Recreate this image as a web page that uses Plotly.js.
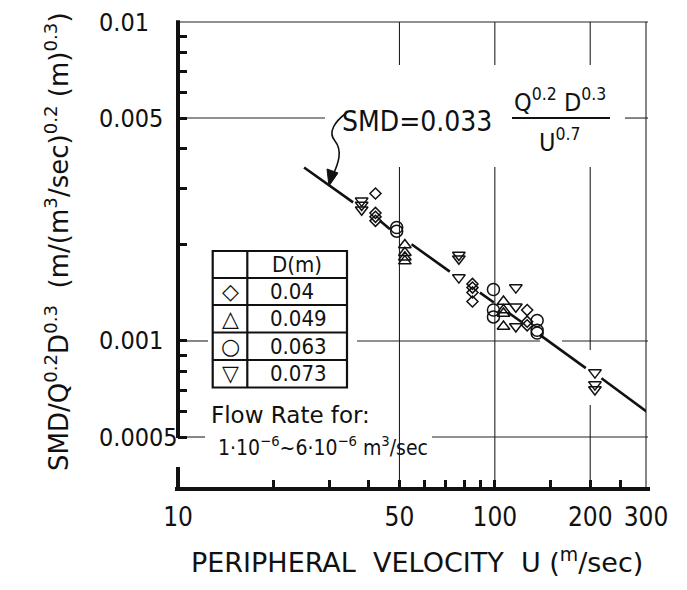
<!DOCTYPE html>
<html><head><meta charset="utf-8">
<script src="https://cdn.plot.ly/plotly-3.0.1.min.js"></script>
<style>html,body{margin:0;padding:0;background:#fff}#chart{width:687px;height:590px}</style>
</head><body><div id="chart"></div>
<script>
// ---- data ----
const d040_U = [42, 42, 42, 42, 85, 85, 85, 85, 126.5, 126.5, 126.5];
const d040_Y = [0.0029, 0.00252, 0.00245, 0.00238, 0.00151, 0.00147, 0.00142, 0.00133, 0.00125, 0.00115, 0.00112];
const d049_U = [52, 52, 52, 52, 106.5, 106.5, 106.5, 106.5];
const d049_Y = [0.0020, 0.00189, 0.00183, 0.00178, 0.00133, 0.00125, 0.00122, 0.00111];
const d063_U = [49, 49, 99, 99, 99, 136, 136, 136];
const d063_Y = [0.00227, 0.00221, 0.00145, 0.00125, 0.00119, 0.00116, 0.00108, 0.00106];
const d073_U = [38, 38, 38, 77, 77, 77, 116.5, 116.5, 116.5, 207, 207, 207];
const d073_Y = [0.00275, 0.00267, 0.00258, 0.00186, 0.00181, 0.00158, 0.00147, 0.00128, 0.00111, 0.000796, 0.00073, 0.000705];
// correlation line (drawn in pieces, broken around the symbols)
const fitU = [25, 35.7, null, 43.4, 46.7, null, 54.6, 72.1, null, 89.7, 99.3, null, 110, 121.7, null, 138.7, 193.7, null, 217, 302];
const fitY = [0.0035, 0.00272, null, 0.00238, 0.00224, null, 0.00201, 0.00165, null, 0.001418, 0.00132, null, 0.00123, 0.001145, null, 0.001045, 0.000822, null, 0.000764, 0.0006];

const xTickVals = [10, 50, 100, 200, 300];
const xTickText = ['10', '50', '100', '200', '300'];
const xMinorVals = [20, 30, 40, 60, 70, 80, 90, 150, 250];
const yLabelVals = [0.01, 0.005, 0.001, 0.0005];
const yLabelText = ['0.01', '0.005', '0.001', '0.0005'];
const yMinorVals = [0.0006, 0.0007, 0.0008, 0.0009, 0.002, 0.003, 0.004, 0.006, 0.007, 0.008, 0.009];
const legendSymbols = ['\u25C7', '\u25B3', '\u25CB', '\u25BD'];
const legendSizes = ['0.04', '0.049', '0.063', '0.073'];

// ---- geometry ----
const FC = '"DejaVu Sans Condensed", "DejaVu Sans", sans-serif';
const FR = '"DejaVu Sans", sans-serif';
const INK = '#111';
const L = 178, T = 22, W = 468, H = 467;
const XR = [1, Math.log10(300)], YR = [-3.464, -2];
const px2x = p => (p - L) / W;
const py2y = p => (T + H - p) / H;
const fx = v => (Math.log10(v) - XR[0]) / (XR[1] - XR[0]);
const fy = v => (Math.log10(v) - YR[0]) / (YR[1] - YR[0]);

const shapes = [];
function seg(x0, y0, x1, y1, w, c) {
  shapes.push({type: 'line', xref: 'paper', yref: 'paper', x0, y0, x1, y1,
    line: {color: c || '#222', width: w}, layer: 'below'});
}
// grid lines (paper coordinates) -- [value, from px, to px]
const vGrid = [[50, 22, 65], [50, 167, 489], [100, 22, 65], [100, 167, 489],
               [200, 22, 65], [200, 167, 350], [200, 405, 489], [300, 22, 489]];
vGrid.forEach(g => seg(fx(g[0]), py2y(g[1]), fx(g[0]), py2y(g[2]), 1.1));
const hGrid = [[0.01, 178, 648], [0.005, 178, 325], [0.005, 625, 648],
               [0.001, 178, 208], [0.001, 357, 540], [0.001, 562, 648],
               [0.0005, 178, 205], [0.0005, 432, 648]];
hGrid.forEach(g => seg(px2x(g[1]), fy(g[0]), px2x(g[2]), fy(g[0]), 1.1));
// axes: broken y spine, x axis
function axisLine(x0, y0, x1, y1, w) {
  shapes.push({type: 'line', xref: 'paper', yref: 'paper', x0, y0, x1, y1,
    line: {color: INK, width: w}, layer: 'above'});
}
axisLine(0, fy(0.0005) - 0.002, 0, 1.004, 4);
axisLine(0, -0.004, 0, py2y(467), 4);
axisLine(px2x(175), 0, px2x(650), 0, 4);
// fraction bar
axisLine(px2x(512), fy(0.005), px2x(610), fy(0.005), 2);
// curly arrow
const P = (x, y) => px2x(x).toFixed(4) + ',' + py2y(y).toFixed(4);
shapes.push({type: 'path', xref: 'paper', yref: 'paper', layer: 'above',
  path: 'M' + P(345, 114) + ' C' + P(336, 121) + ' ' + P(327, 132) + ' ' + P(335, 141) +
        ' C' + P(343, 151) + ' ' + P(338, 164) + ' ' + P(333, 175),
  line: {color: INK, width: 1.6}});
shapes.push({type: 'path', xref: 'paper', yref: 'paper', layer: 'above',
  path: 'M' + P(329, 186) + ' L' + P(327, 169) + ' L' + P(338, 173) + ' Z',
  fillcolor: INK, line: {color: INK, width: 1}});
// legend table
const tabX = [212.7, 247.3, 347], tabY = [251, 278, 305, 332.5, 360, 387.5];
shapes.push({type: 'rect', xref: 'paper', yref: 'paper', layer: 'above',
  x0: px2x(tabX[0]), x1: px2x(tabX[2]), y0: py2y(tabY[0]), y1: py2y(tabY[5]),
  fillcolor: 'rgba(0,0,0,0)', line: {color: INK, width: 2.2}});
for (let i = 1; i < 5; i++) axisLine(px2x(tabX[0]), py2y(tabY[i]), px2x(tabX[2]), py2y(tabY[i]), 2.2);
axisLine(px2x(tabX[1]), py2y(tabY[0]), px2x(tabX[1]), py2y(tabY[5]), 2.2);

// ---- annotations ----
const ann = [];
function txt(text, x, y, size, xa, fam, extra) {
  ann.push(Object.assign({text, x, y, xref: 'paper', yref: 'paper', showarrow: false,
    xanchor: xa || 'center', yanchor: 'middle', font: {family: fam || FC, size, color: INK}}, extra || {}));
}
const NB = '\u00A0';
yLabelVals.forEach((v, i) => txt(yLabelText[i], px2x(97), fy(v), 25, 'left'));
txt('SMD/Q<sup>0.2</sup>D<sup>0.3</sup>' + NB + NB + '(m/(m<sup>3</sup>/sec)<sup>0.2</sup>' + NB + '(m)<sup>0.3</sup>)',
    px2x(57), py2y(242), 26, 'center', FR, {textangle: -90});
txt('PERIPHERAL' + NB + NB + 'VELOCITY' + NB + NB + 'U' + NB + '(<sup>m</sup>/sec)', px2x(417), py2y(560), 27, 'center', FR);
txt('SMD=0.033', px2x(340), py2y(121), 28, 'left');
txt('Q<sup>0.2</sup> D<sup>0.3</sup>', px2x(560), py2y(100), 25, 'center');
txt('U<sup>0.7</sup>', px2x(560), py2y(140), 25, 'center');
txt('D(m)', px2x(297), py2y((tabY[0] + tabY[1]) / 2), 22, 'center');
for (let i = 0; i < 4; i++) {
  const yc = py2y((tabY[i + 1] + tabY[i + 2]) / 2);
  txt(legendSymbols[i], px2x(230), yc, 22, 'center', FR);
  txt(legendSizes[i], px2x(268), yc, 22, 'left');
}
txt('Flow' + NB + 'Rate' + NB + 'for:', px2x(209), py2y(415), 23, 'left', FR);
txt('1\u00B710<sup>\u22126</sup>~6\u00B710<sup>\u22126</sup> m<sup>3</sup>/sec', px2x(216), py2y(446), 21, 'left');

// ---- traces ----
const mk = (sym, size) => ({symbol: sym, size, color: INK, line: {color: INK, width: 1.5}});
const traces = [
  {x: fitU, y: fitY, mode: 'lines', line: {color: INK, width: 2.6}, connectgaps: false, name: 'fit'},
  {x: d040_U, y: d040_Y, mode: 'markers', marker: mk('diamond-open', 8.5), name: '0.04'},
  {x: d049_U, y: d049_Y, mode: 'markers', marker: mk('triangle-up-open', 11), name: '0.049'},
  {x: d063_U, y: d063_Y, mode: 'markers', marker: mk('circle-open', 12), name: '0.063'},
  {x: d073_U, y: d073_Y, mode: 'markers', marker: mk('triangle-down-open', 11), name: '0.073'}
];

const layout = {
  width: 687, height: 590,
  margin: {l: L, r: 687 - L - W, t: T, b: 590 - T - H, pad: 0},
  paper_bgcolor: '#fff', plot_bgcolor: '#fff',
  showlegend: false,
  font: {family: FC, color: INK},
  xaxis: {type: 'log', range: XR, tickmode: 'array', tickvals: xTickVals, ticktext: xTickText,
    ticks: 'inside', ticklen: 9, tickwidth: 3, tickcolor: INK, showgrid: false, zeroline: false,
    showline: false, tickfont: {family: FC, size: 26, color: INK}, ticklabelstandoff: 10,
    minor: {tickmode: 'array', tickvals: xMinorVals, ticks: 'inside', ticklen: 9, tickwidth: 3,
      tickcolor: INK, showgrid: false}},
  yaxis: {type: 'log', range: YR, tickmode: 'array', tickvals: yLabelVals, ticktext: yLabelText,
    showticklabels: false,
    ticks: 'inside', ticklen: 9, tickwidth: 3, tickcolor: INK, showgrid: false, zeroline: false,
    showline: false,
    minor: {tickmode: 'array', tickvals: yMinorVals, ticks: 'inside', ticklen: 9, tickwidth: 3,
      tickcolor: INK, showgrid: false}},
  shapes, annotations: ann
};
Plotly.newPlot('chart', traces, layout, {displayModeBar: false, staticPlot: true});
</script></body></html>
